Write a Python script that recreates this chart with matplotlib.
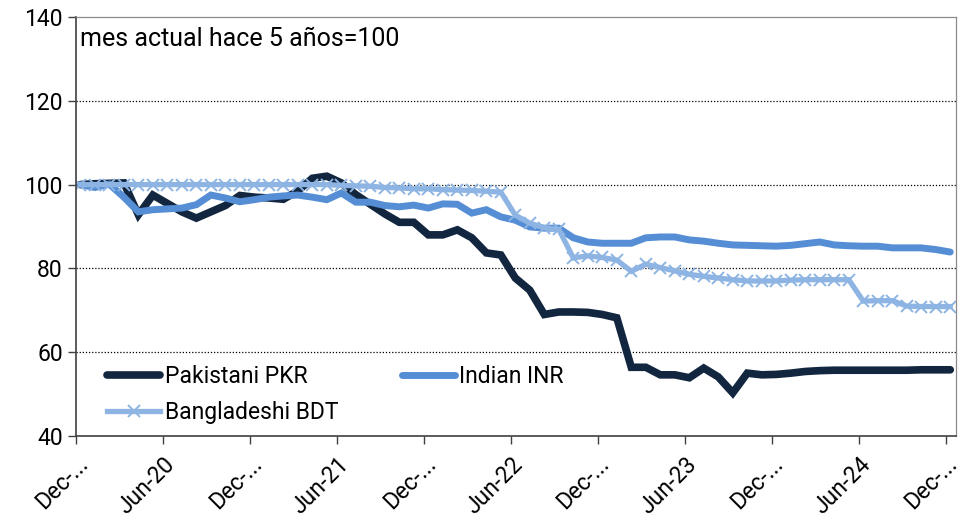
import numpy as np
import matplotlib
matplotlib.use("Agg")
import matplotlib.pyplot as plt

plt.rcParams['font.family'] = ['Roboto', 'DejaVu Sans']

# monthly index, Dec-19 .. Dec-24 (mes actual hace 5 años = 100)
pkr = [100.0, 100.2, 100.3, 100.4, 92.8, 97.5, 95.5, 93.5, 92.0, 93.5,
       95.0, 97.4, 97.0, 96.8, 96.5, 98.5, 101.5, 102.0, 100.4, 97.6,
       95.3, 93.0, 91.0, 91.0, 88.0, 88.0, 89.2, 87.3, 83.7, 83.2,
       77.7, 74.8, 69.0, 69.6, 69.6, 69.5, 69.0, 68.2, 56.4, 56.4,
       54.6, 54.6, 53.9, 56.2, 54.1, 50.3, 55.0, 54.6, 54.7, 55.0,
       55.4, 55.6, 55.7, 55.7, 55.7, 55.7, 55.7, 55.7, 55.8, 55.8, 55.8]
inr = [100.0, 99.3, 100.1, 97.0, 93.5, 94.0, 94.2, 94.4, 95.2, 97.5,
       96.8, 95.9, 96.4, 97.0, 97.3, 97.5, 97.0, 96.4, 98.0, 95.8,
       95.8, 95.0, 94.7, 95.1, 94.4, 95.4, 95.3, 93.2, 94.0, 92.3,
       91.5, 89.9, 89.6, 89.6, 87.3, 86.3, 86.0, 86.0, 86.0, 87.3,
       87.5, 87.5, 86.8, 86.5, 86.0, 85.6, 85.5, 85.4, 85.3, 85.5,
       85.9, 86.3, 85.6, 85.4, 85.3, 85.3, 84.9, 84.9, 84.9, 84.5, 83.9]
bdt = [100.0, 100.0, 100.0, 100.0, 100.0, 100.0, 100.0, 100.0, 100.0, 100.0,
       100.0, 100.0, 100.0, 100.0, 100.0, 100.0, 100.0, 100.0, 99.8, 99.7,
       99.6, 99.3, 99.2, 99.0, 99.0, 98.8, 98.7, 98.6, 98.4, 98.2,
       92.7, 90.8, 89.7, 89.3, 82.5, 83.0, 82.6, 82.0, 79.3, 81.0,
       80.2, 79.4, 78.6, 78.1, 77.7, 77.3, 77.0, 77.0, 77.0, 77.2,
       77.3, 77.3, 77.3, 77.3, 72.2, 72.3, 72.3, 71.0, 70.9, 70.9, 70.9]
tick_labels = ['Dec-...', 'Jun-20', 'Dec-...', 'Jun-21', 'Dec-...', 'Jun-22',
               'Dec-...', 'Jun-23', 'Dec-...', 'Jun-24', 'Dec-...']

x = np.arange(len(pkr))

fig = plt.figure(figsize=(9.71, 5.29), dpi=100)
ax = fig.add_axes([0.0783, 0.1758, 0.9063, 0.7921])

l1, = ax.plot(x, pkr, color='#12263F', lw=5.5, solid_joinstyle='miter', solid_capstyle='round', label='Pakistani PKR')
l2, = ax.plot(x, inr, color='#558ED5', lw=5.0, solid_joinstyle='miter', solid_capstyle='round', label='Indian INR')
l3, = ax.plot(x, bdt, color='#8DB4E2', lw=3.8, marker='x', ms=9, mew=1.4,
              solid_joinstyle='miter', label='Bangladeshi BDT')

ax.set_ylim(40, 140)
ax.set_yticks(range(40, 141, 20))
ax.set_xlim(-0.3, 60.4)
# category ticks sit at the start of each month
ax.set_xticks(np.arange(0, 61, 6) - 0.3)
ax.set_xticklabels(tick_labels, rotation=45, ha='right', rotation_mode='anchor')
ax.tick_params(axis='both', labelsize=16.5, length=6, width=1, color='#404040')
ax.tick_params(axis='x', pad=6)

for v in [60, 80, 100, 120]:
    ax.axhline(v, color='black', lw=0.9, ls=(0, (1, 1.5)), zorder=0)

for s in ['top', 'right']:
    ax.spines[s].set_color('#8c8c8c')
    ax.spines[s].set_linewidth(0.9)
for s in ['left', 'bottom']:
    ax.spines[s].set_color('#404040')
    ax.spines[s].set_linewidth(1.2)

ax.text(0.005, 0.975, 'mes actual hace 5 años=100', transform=ax.transAxes,
        fontsize=18, va='top', ha='left')

ax.legend([l1, l3, l2], ['Pakistani PKR', 'Bangladeshi BDT', 'Indian INR'],
          loc='lower left', bbox_to_anchor=(0.012, -0.02), ncol=2, frameon=False,
          fontsize=16.5, handlelength=2.3, handletextpad=0.2, columnspacing=2.8,
          labelspacing=0.55)

fig.savefig('out.png', dpi=100)
